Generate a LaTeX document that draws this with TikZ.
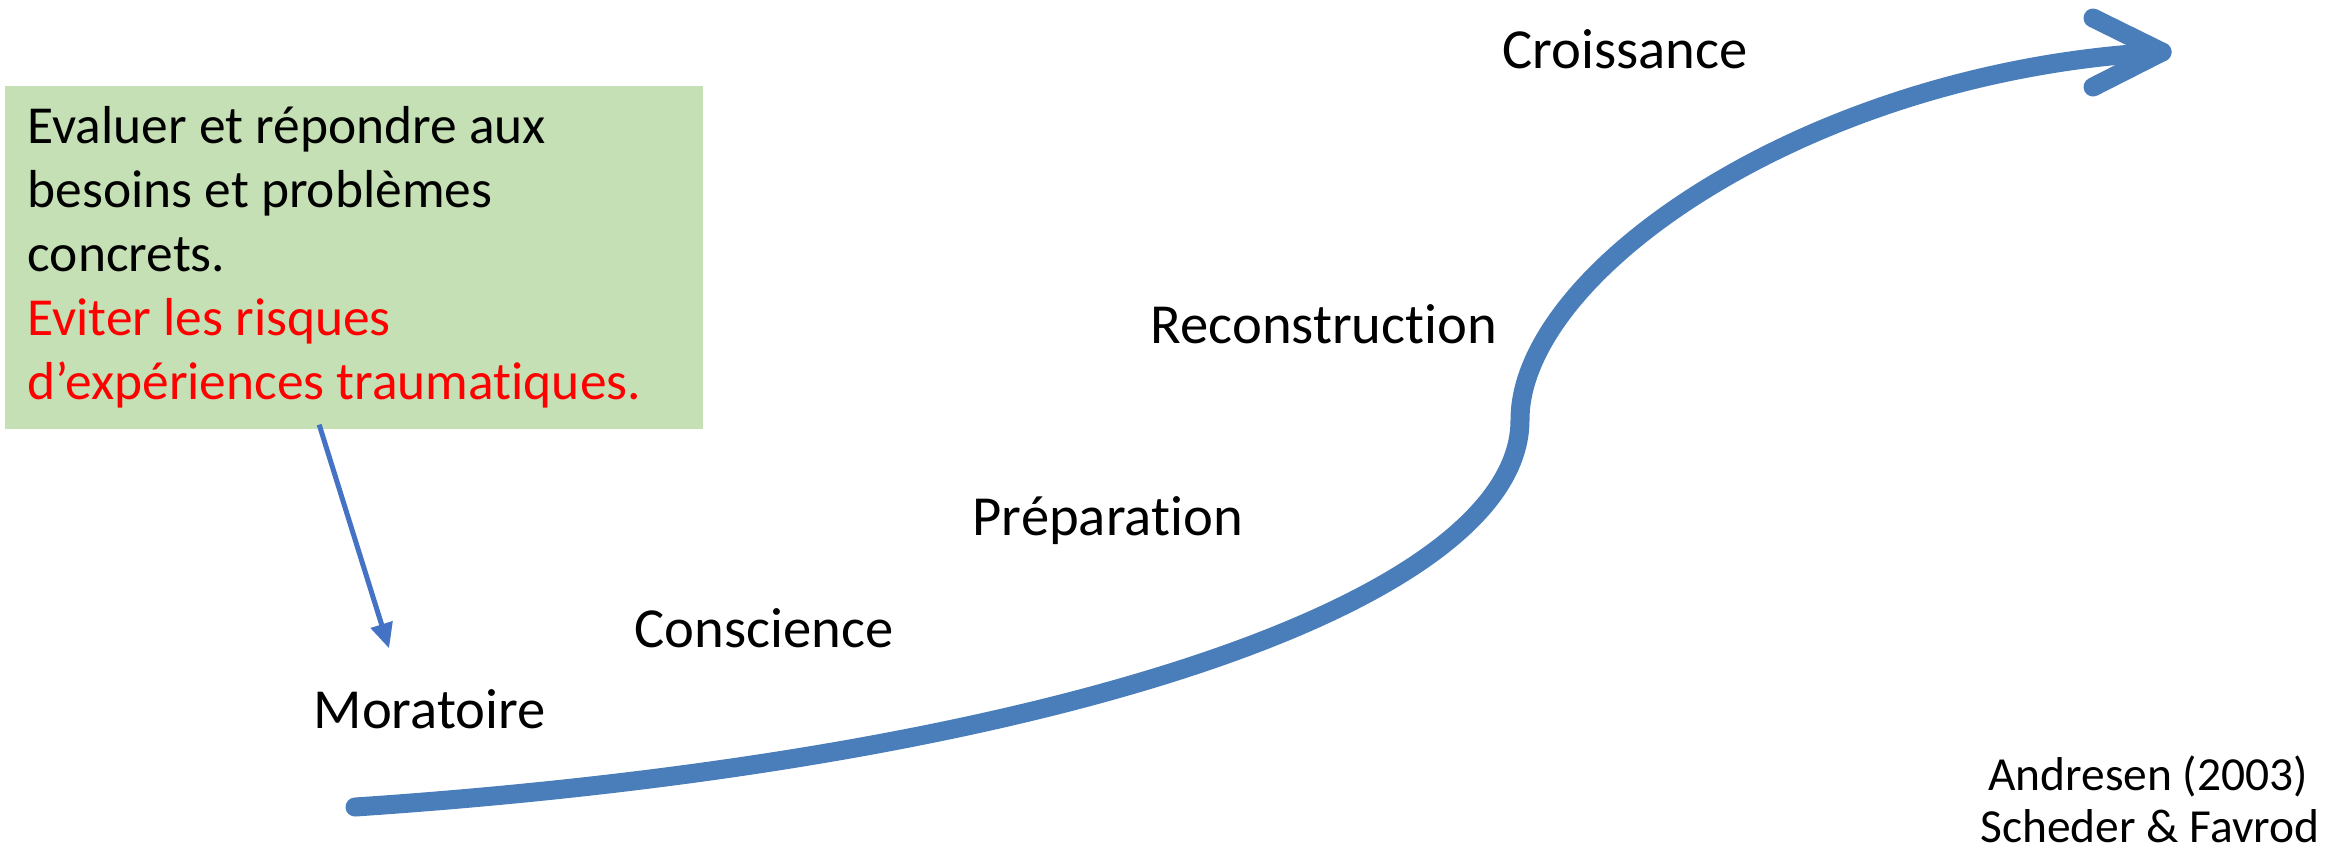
\documentclass[tikz,border=0pt]{standalone}
\usepackage{fontspec}
\setmainfont{Carlito}[Ligatures=NoCommon]
\usetikzlibrary{arrows.meta}

\definecolor{boxgreen}{HTML}{C5E0B4}
\definecolor{pathblue}{HTML}{4A7EBB}
\definecolor{ptrblue}{HTML}{4472C4}
\definecolor{alertred}{HTML}{FF0000}

\tikzset{
  stage/.style={anchor=base west, inner sep=0pt, font=\fontsize{16.1}{19}\selectfont},
  notebox/.style={anchor=north west, fill=boxgreen, inner xsep=0.23cm, inner ysep=0pt,
    minimum width=6.98cm, minimum height=3.43cm, text width=6.52cm, align=flush left,
    font=\fontsize{15.2}{18.2}\selectfont},
  credit/.style={anchor=base, inner sep=0pt, font=\fontsize{13.5}{15}\selectfont},
  growth/.style={pathblue, line width=0.19cm, line cap=round, line join=round},
}

\begin{document}
\begin{tikzpicture}[x=0.01cm, y=-0.01cm, >={Triangle[length=0.25cm, width=0.22cm]}]
  \useasboundingbox (0,0) rectangle (2348,850);

  % encadre vert
  \node[notebox] (box) at (4,85) {Evaluer et répondre aux\\ besoins et problèmes\\ concrets.\\
    \textcolor{alertred}{Eviter les risques}\\ \textcolor{alertred}{d’expériences traumatiques.}};

  % etapes
  \node[stage] (mora) at (313,728) {Moratoire};
  \node[stage] (consc) at (634,647) {Conscience};
  \node[stage] (prep) at (972,535) {Préparation};
  \node[stage] (recon) at (1150,343) {Reconstruction};
  \node[stage] (crois) at (1502,68) {Croissance};

  % courbe
  \coordinate (start) at (355,807);
  \coordinate (mid) at (1520,420);
  \coordinate (tip) at (2162,52);
  \draw[growth] (start) .. controls (1055,760) and (1520,600) .. (mid)
    .. controls (1520,270) and (1812,70) .. (tip);
  \draw[growth] (2093,18) -- (tip) -- (2093,87);

  % fleche vers le moratoire
  \draw[->, ptrblue, line width=0.05cm] ([xshift=3.15cm, yshift=0.05cm]box.south west)
    -- ([xshift=0.76cm, yshift=0.4cm]mora.north west);

  % source
  \node[credit] (src1) at (2148,790) {Andresen (2003)};
  \node[credit] (src2) at (2150,842) {Scheder \& Favrod};
\end{tikzpicture}
\end{document}
